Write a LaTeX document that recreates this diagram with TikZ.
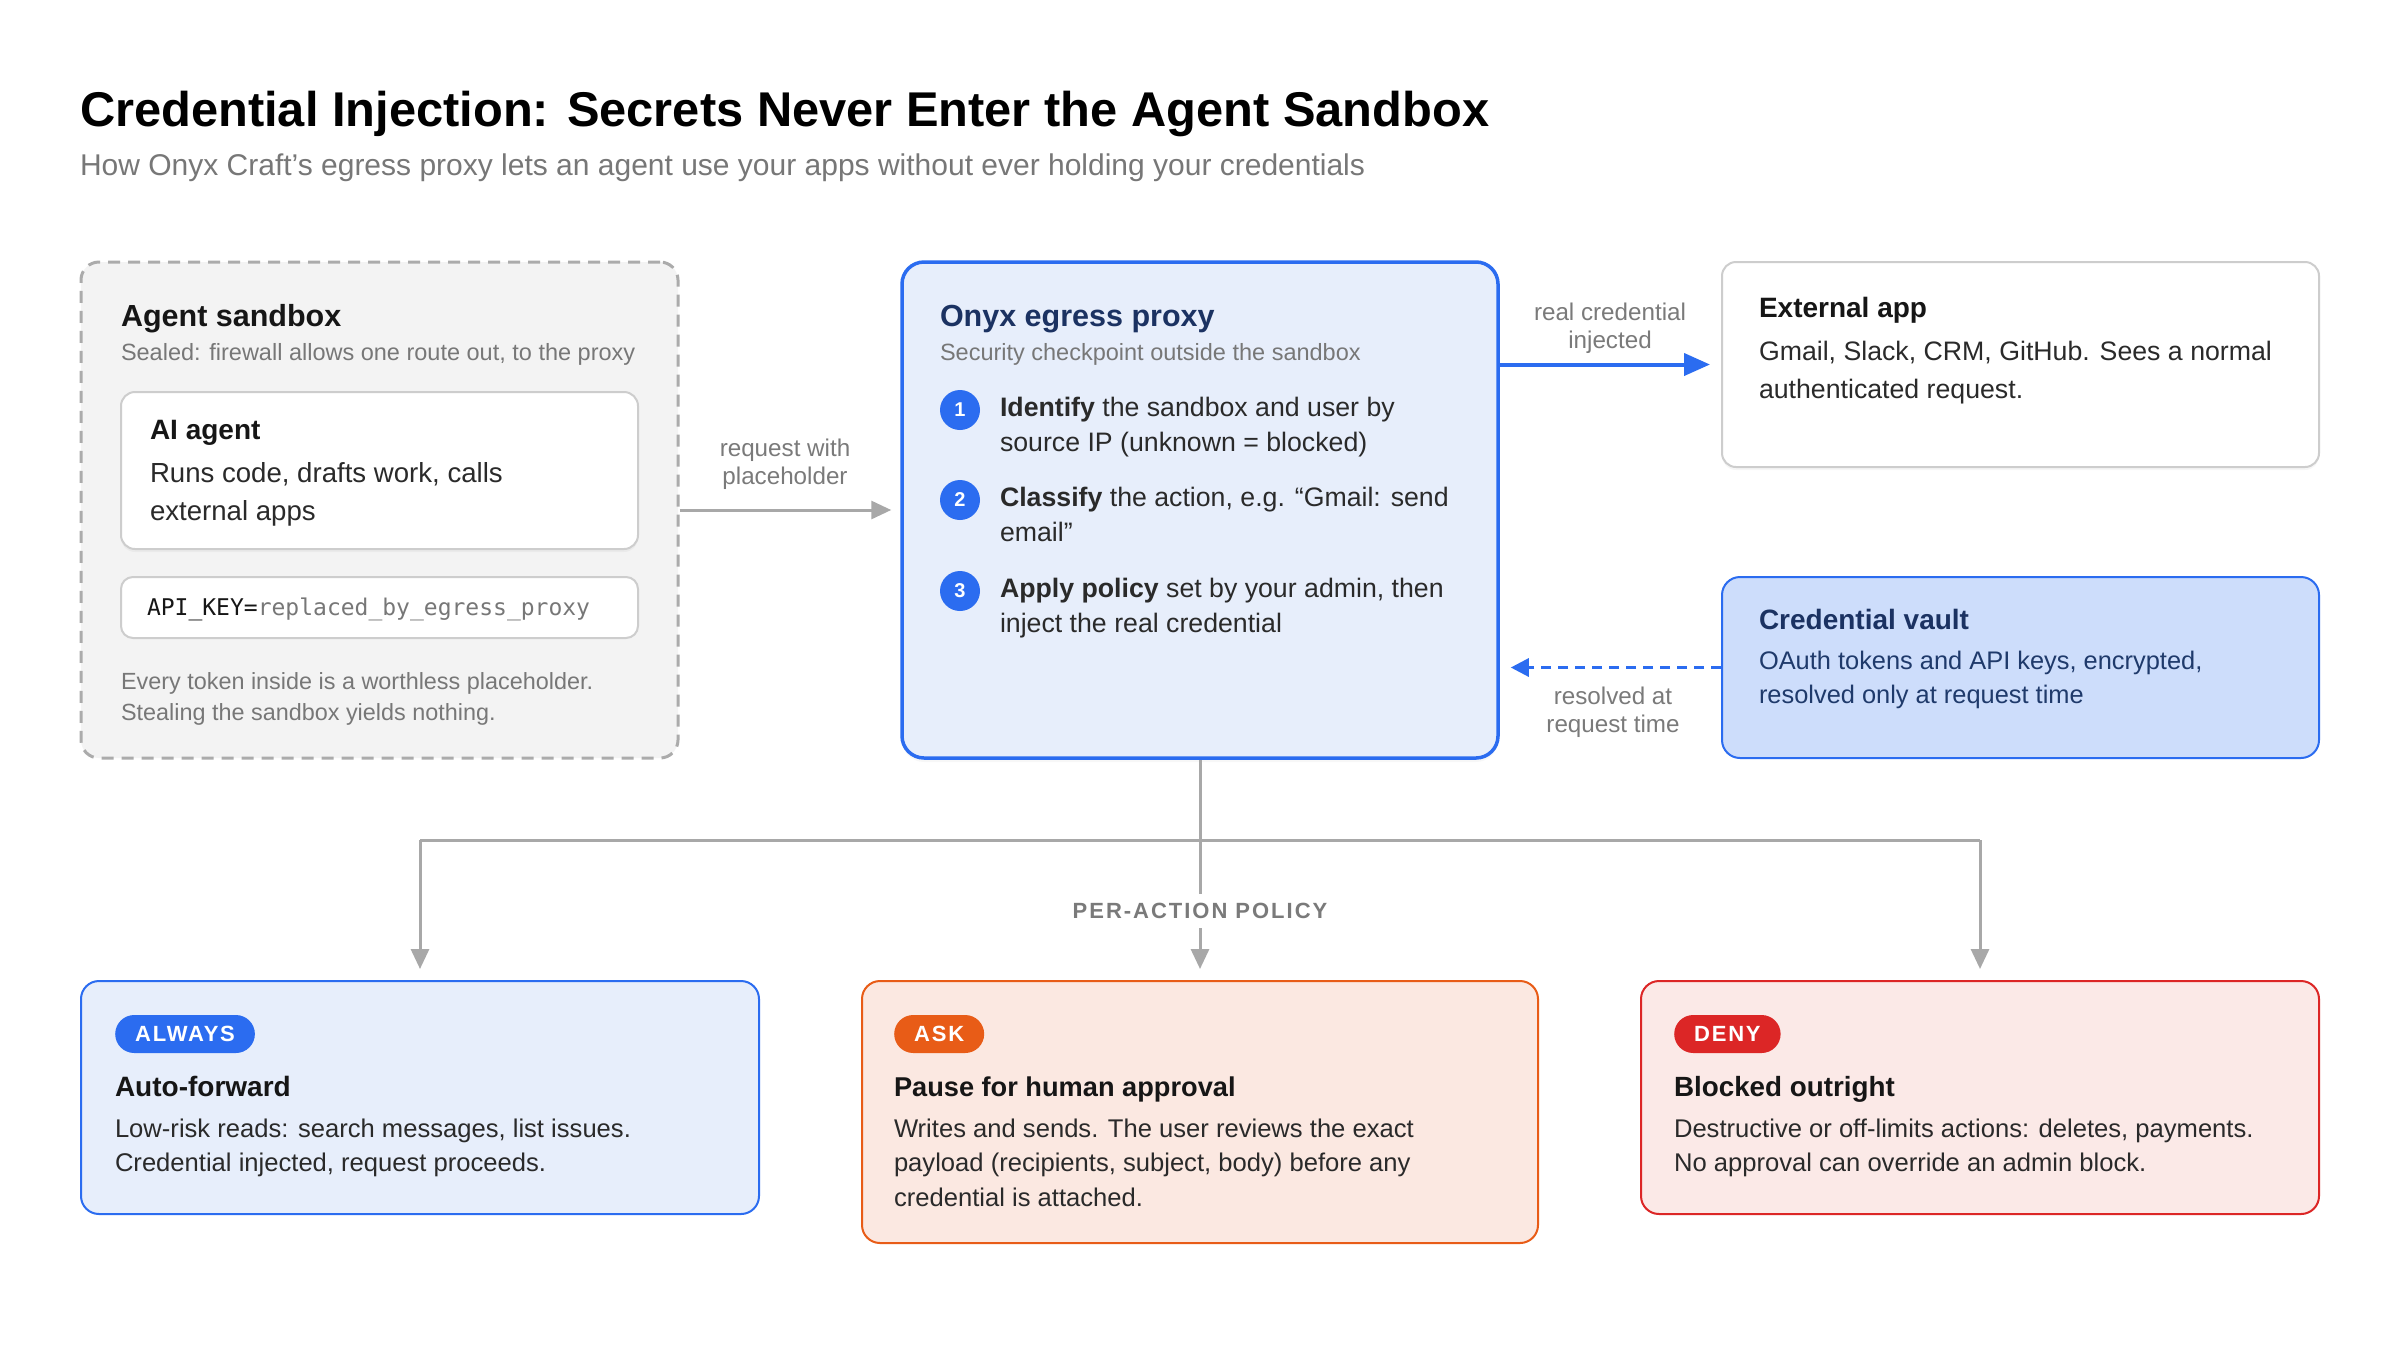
\documentclass[tikz,border=0pt]{standalone}
\usepackage{fontspec}
\setmainfont{Liberation Sans}
\setmonofont{DejaVu Sans Mono}
\usetikzlibrary{arrows.meta,shadows}
\newcommand{\myfs}[1]{\fontsize{#1}{#1}\selectfont}
\definecolor{blu}{HTML}{2B6CF0}
\definecolor{bluefill}{HTML}{E7EEFB}
\definecolor{vaultfill}{HTML}{CDDDFB}
\definecolor{navy}{HTML}{1B3262}
\definecolor{navytext}{HTML}{1F3A6B}
\definecolor{ink}{HTML}{161616}
\definecolor{inkb}{HTML}{2A2A2A}
\definecolor{graytext}{HTML}{777777}
\definecolor{labeltext}{HTML}{7A7A7A}
\definecolor{conn}{HTML}{A8A8A8}
\definecolor{sandfill}{HTML}{F3F3F3}
\definecolor{sandline}{HTML}{ABABAB}
\definecolor{boxline}{HTML}{CDCDCD}
\definecolor{orng}{HTML}{E85C17}
\definecolor{askfill}{HTML}{FBE8E1}
\definecolor{redc}{HTML}{DC2626}
\definecolor{denyfill}{HTML}{FBE9E7}
\begin{document}
\begin{tikzpicture}[x=1pt,y=-1pt,
  txt/.style={anchor=base west, inner sep=0pt, outer sep=0pt},
  head/.style={txt, font=\myfs{28}\bfseries, text=ink},
  bighead/.style={txt, font=\myfs{30.5}\bfseries, text=ink},
  body/.style={txt, font=\myfs{26.7}, text=inkb},
  small/.style={txt, font=\myfs{23.5}, text=graytext},
  bbody/.style={txt, font=\myfs{25.6}, text=inkb},
  lbl/.style={anchor=base, inner sep=0pt, font=\myfs{24.2}, text=labeltext},
  sandboxbox/.style={draw=sandline, fill=sandfill, line width=3pt, dash pattern=on 12pt off 8pt, rounded corners=18pt, inner sep=0pt},
  whitebox/.style={draw=boxline, fill=white, line width=2pt, rounded corners=14pt, inner sep=0pt, drop shadow={opacity=0.07, shadow xshift=0pt, shadow yshift=-3pt}},
  proxybox/.style={draw=blu, fill=bluefill, line width=3.5pt, rounded corners=22pt, inner sep=0pt, drop shadow={opacity=0.06, shadow xshift=0pt, shadow yshift=-4pt}},
  vaultbox/.style={draw=blu, fill=vaultfill, line width=2pt, rounded corners=18pt, inner sep=0pt},
  polbox/.style={line width=2pt, rounded corners=18pt, inner sep=0pt, minimum height=233pt},
  pill/.style={anchor=west, inner xsep=20pt, inner ysep=0pt, minimum height=38pt, rounded corners=19pt, text=white, font=\myfs{22}\bfseries\addfontfeatures{LetterSpace=8}},
  stepnum/.style={circle, fill=blu, minimum size=40pt, inner sep=0pt, text=white, font=\myfs{20}\bfseries},
  garr/.style={draw=conn, line width=3pt, -{Triangle[length=20pt, width=18pt]}},
  gline/.style={draw=conn, line width=3pt},
]
\useasboundingbox (0,0) rectangle (2400,1350);
\fill[white] (0,0) rectangle (2400,1350);

% title
\node[txt, font=\myfs{48.8}\bfseries, text=black] (title) at (80,126) {Credential Injection: Secrets Never Enter the Agent Sandbox};
\node[txt, font=\myfs{30}, text=graytext] (subtitle) at (80,175) {How Onyx Craft's egress proxy lets an agent use your apps without ever holding your credentials};

% sandbox
\node[sandboxbox, minimum width=597pt, minimum height=496pt] (sandbox) at (379.5,510) {};
\node[bighead] (sbh) at (121,326) {Agent sandbox};
\node[small] (sbs) at (121,360) {Sealed: firewall allows one route out, to the proxy};
\node[whitebox, minimum width=517pt, minimum height=157pt] (agent) at (379.5,470.5) {};
\node[head] (agh) at (150,439) {AI agent};
\node[body, font=\myfs{27.6}] (ag1) at (150,482) {Runs code, drafts work, calls};
\node[body, font=\myfs{27.6}] (ag2) at (150,520) {external apps};
\node[draw=boxline, fill=white, line width=2pt, rounded corners=12pt, inner sep=0pt, minimum width=517pt, minimum height=61pt] (apikey) at (379.5,607.5) {};
\node[txt, font=\myfs{23}\ttfamily] (apitxt) at (147,615) {\textcolor{ink}{API\_KEY=}\textcolor{graytext}{replaced\_by\_egress\_proxy}};
\node[txt, font=\myfs{23.4}, text=graytext] (sbn1) at (121,689) {Every token inside is a worthless placeholder.};
\node[txt, font=\myfs{23.4}, text=graytext] (sbn2) at (121,720) {Stealing the sandbox yields nothing.};

% proxy
\node[proxybox, minimum width=596pt, minimum height=496pt] (proxy) at (1200,510) {};
\node[bighead, text=navy] (pxh) at (940,326) {Onyx egress proxy};
\node[small] (pxs) at (940,360) {Security checkpoint outside the sandbox};
\node[stepnum] (s1) at (960,410) {1};
\node[stepnum] (s2) at (960,500) {2};
\node[stepnum] (s3) at (960,591) {3};
\node[body] (s1a) at (1000,416) {\textbf{Identify} the sandbox and user by};
\node[body] (s1b) at (1000,451) {source IP (unknown = blocked)};
\node[body] (s2a) at (1000,506) {\textbf{Classify} the action, e.g. “Gmail: send};
\node[body] (s2b) at (1000,541) {email”};
\node[body] (s3a) at (1000,597) {\textbf{Apply policy} set by your admin, then};
\node[body] (s3b) at (1000,632) {inject the real credential};

% external app
\node[whitebox, minimum width=597pt, minimum height=205pt] (extapp) at (2020.5,364.5) {};
\node[head] (exh) at (1759,317) {External app};
\node[body] (ex1) at (1759,360) {Gmail, Slack, CRM, GitHub. Sees a normal};
\node[body] (ex2) at (1759,398) {authenticated request.};

% vault
\node[vaultbox, minimum width=597pt, minimum height=181pt] (vault) at (2020.5,667.5) {};
\node[head, text=navy] (vah) at (1759,629) {Credential vault};
\node[body, font=\myfs{25.4}, text=navytext] (va1) at (1759,669) {OAuth tokens and API keys, encrypted,};
\node[body, font=\myfs{25.4}, text=navytext] (va2) at (1759,703) {resolved only at request time};

% connectors top
\draw[garr, shorten >=9pt] (sandbox.east) -- (proxy.west);
\node[lbl] (rq1) at (785,456) {request with};
\node[lbl] (rq2) at (785,484) {placeholder};

\draw[draw=blu, line width=4pt, -{Triangle[length=26pt, width=22pt]}, shorten >=11pt] (proxy.east |- extapp.west) -- (extapp.west);
\node[lbl] (rc1) at (1610,320) {real credential};
\node[lbl] (rc2) at (1610,348) {injected};

\draw[draw=blu, line width=3pt, dash pattern=on 10pt off 7pt, -{Triangle[length=18pt, width=18pt]}, shorten >=11pt] (vault.west) -- (proxy.east |- vault.west);
\node[lbl] (rs1) at (1613,704) {resolved at};
\node[lbl] (rs2) at (1613,732) {request time};

% policy boxes
\node[polbox, draw=blu, fill=bluefill, minimum width=678pt] (always) at (420,1097.5) {};
\node[polbox, draw=orng, fill=askfill, minimum width=676pt, minimum height=262pt] (ask) at (1200,1112) {};
\node[polbox, draw=redc, fill=denyfill, minimum width=678pt] (deny) at (1980,1097.5) {};

% tree
\coordinate (junc) at (1200,840);
\draw[gline] (always.north |- junc) -- (deny.north |- junc);
\draw[garr, shorten >=11pt] (always.north |- junc) -- (always.north);
\draw[garr, shorten >=11pt] (deny.north |- junc) -- (deny.north);
\draw[garr, shorten >=11pt] (proxy.south) -- (ask.north);
\node[fill=white, inner xsep=4pt, inner ysep=9pt, text=labeltext, font=\myfs{22}\bfseries\addfontfeatures{LetterSpace=9}] (pol) at (1200,911) {PER-ACTION POLICY};

% pills and texts
\node[pill, fill=blu] (palw) at (115,1034) {ALWAYS};
\node[pill, fill=orng] (pask) at (894,1034) {ASK};
\node[pill, fill=redc] (pdeny) at (1674,1034) {DENY};

\node[head, font=\myfs{28}\bfseries] (alh) at (115,1096) {Auto-forward};
\node[bbody] (al1) at (115,1137) {Low-risk reads: search messages, list issues.};
\node[bbody] (al2) at (115,1171) {Credential injected, request proceeds.};

\node[head, font=\myfs{27.2}\bfseries] (akh) at (894,1096) {Pause for human approval};
\node[bbody] (ak1) at (894,1137) {Writes and sends. The user reviews the exact};
\node[bbody] (ak2) at (894,1171) {payload (recipients, subject, body) before any};
\node[bbody] (ak3) at (894,1206) {credential is attached.};

\node[head, font=\myfs{27.8}\bfseries] (dnh) at (1674,1096) {Blocked outright};
\node[bbody] (dn1) at (1674,1137) {Destructive or off-limits actions: deletes, payments.};
\node[bbody] (dn2) at (1674,1171) {No approval can override an admin block.};
\end{tikzpicture}
\end{document}
